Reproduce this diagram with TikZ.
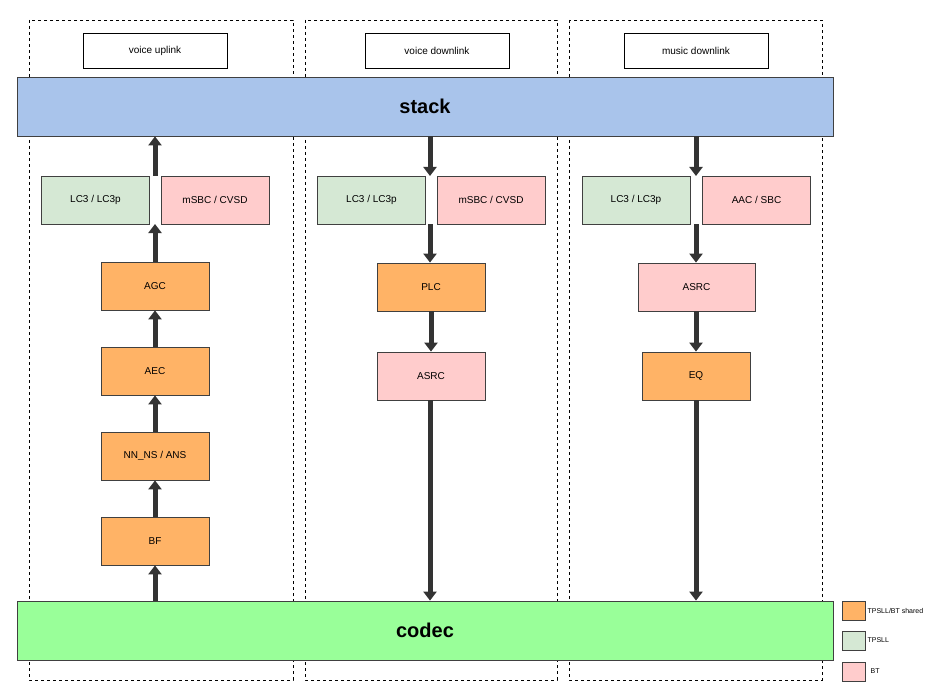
\documentclass[tikz,border=0pt]{standalone}
\usepackage{fontspec}
\setmainfont{Liberation Sans}
\usetikzlibrary{arrows.meta}
\definecolor{stackblue}{HTML}{A9C4EB}
\definecolor{codecgreen}{HTML}{99FF99}
\definecolor{tpsll}{HTML}{D5E8D4}
\definecolor{bt}{HTML}{FFCCCC}
\definecolor{shared}{HTML}{FFB366}
\tikzset{
  box/.style={draw=black!75,thick,minimum width=108pt,minimum height=48pt,font=\fontsize{10}{12}\selectfont},
  sharedbox/.style={box,fill=shared},
  tpsllbox/.style={box,fill=tpsll},
  btbox/.style={box,fill=bt},
  titlebox/.style={draw,minimum width=144pt,minimum height=35pt,font=\fontsize{10}{12}\selectfont},
  bar/.style={draw=black!75,thick,minimum width=816pt,minimum height=59pt,font=\fontsize{20}{24}\selectfont\bfseries},
  flow/.style={-{Triangle[length=9pt,width=13pt]},line width=5pt,black!80},
  lane/.style={draw,dashed}
}
\begin{document}
\begin{tikzpicture}[x=1pt,y=-1pt]
  \useasboundingbox (0,0) rectangle (950,695);
  % lanes
  \draw[lane] (29,20) rectangle (293,680);
  \draw[lane] (305,20) rectangle (557,680);
  \draw[lane] (569,20) rectangle (822,680);
  \node[titlebox] (tup)   at (155,50.5) {voice uplink};
  \node[titlebox] (tdown) at (437,50.5) {voice downlink};
  \node[titlebox] (tmus)  at (696,50.5) {music downlink};
  \node[bar,fill=stackblue]  (stack) at (425,106.5) {stack};
  \node[bar,fill=codecgreen] (codec) at (425,630.5) {codec};

  % voice uplink
  \node[tpsllbox] (ulc) at (95.5,200) {LC3 / LC3p};
  \node[btbox]    (umsbc) at (215,200) {mSBC / CVSD};
  \node[sharedbox] (agc) at (155,286) {AGC};
  \node[sharedbox] (aec) at (155,371) {AEC};
  \node[sharedbox] (ns)  at (155,456) {NN\_NS / ANS};
  \node[sharedbox] (bf)  at (155,541) {BF};
  \coordinate (utop) at (155,176);
  \coordinate (ubot) at (155,224);

  % voice downlink
  \node[tpsllbox] (dlc) at (371.5,200) {LC3 / LC3p};
  \node[btbox]    (dmsbc) at (491,200) {mSBC / CVSD};
  \node[sharedbox] (plc)  at (431,287) {PLC};
  \node[btbox]     (dasrc) at (431,376) {ASRC};
  \coordinate (dtop) at (430,176);
  \coordinate (dbot) at (430,224);

  % music downlink
  \node[tpsllbox] (mlc) at (636,200) {LC3 / LC3p};
  \node[btbox]    (maac) at (756.5,200) {AAC / SBC};
  \node[btbox,minimum width=117pt] (masrc) at (696.5,287) {ASRC};
  \node[sharedbox] (eq) at (696,376) {EQ};
  \coordinate (mtop) at (696,176);
  \coordinate (mbot) at (696,224);

  \draw[flow] (codec.north -| bf) -- (bf);
  \foreach \from/\to in {bf/ns,ns/aec,aec/agc}
    \draw[flow] (\from) -- (\to);
  \draw[flow] (agc) -- (ubot);
  \draw[flow] (utop) -- (stack.south -| utop);
  \draw[flow] (stack.south -| dtop) -- (dtop);
  \draw[flow] (dbot) -- (plc.north -| dbot);
  \draw[flow] (plc) -- (dasrc);
  \draw[flow] (dasrc.south -| dbot) -- (codec.north -| dbot);
  \draw[flow] (stack.south -| mtop) -- (mtop);
  \draw[flow] (mbot) -- (masrc.north -| mbot);
  \draw[flow] (masrc.south -| mbot) -- (eq.north -| mbot);
  \draw[flow] (eq) -- (codec.north -| eq);

  % legend
  \node[draw=black!75,thick,fill=shared,minimum width=23pt,minimum height=19pt] (lshared) at (853.5,610.5) {};
  \node[draw=black!75,thick,fill=tpsll,minimum width=23pt,minimum height=19pt] (ltpsll) at (853.5,640.5) {};
  \node[draw=black!75,thick,fill=bt,minimum width=23pt,minimum height=19pt] (lbt) at (853.5,671.5) {};
  \node[right=1pt,font=\fontsize{7}{8}\selectfont,inner sep=1pt] at (lshared.east) {TPSLL/BT shared};
  \node[right=1pt,font=\fontsize{7}{8}\selectfont,inner sep=1pt] at (ltpsll.east) {TPSLL};
  \node[right=4pt,font=\fontsize{7}{8}\selectfont,inner sep=1pt] at (lbt.east) {BT};
\end{tikzpicture}
\end{document}
